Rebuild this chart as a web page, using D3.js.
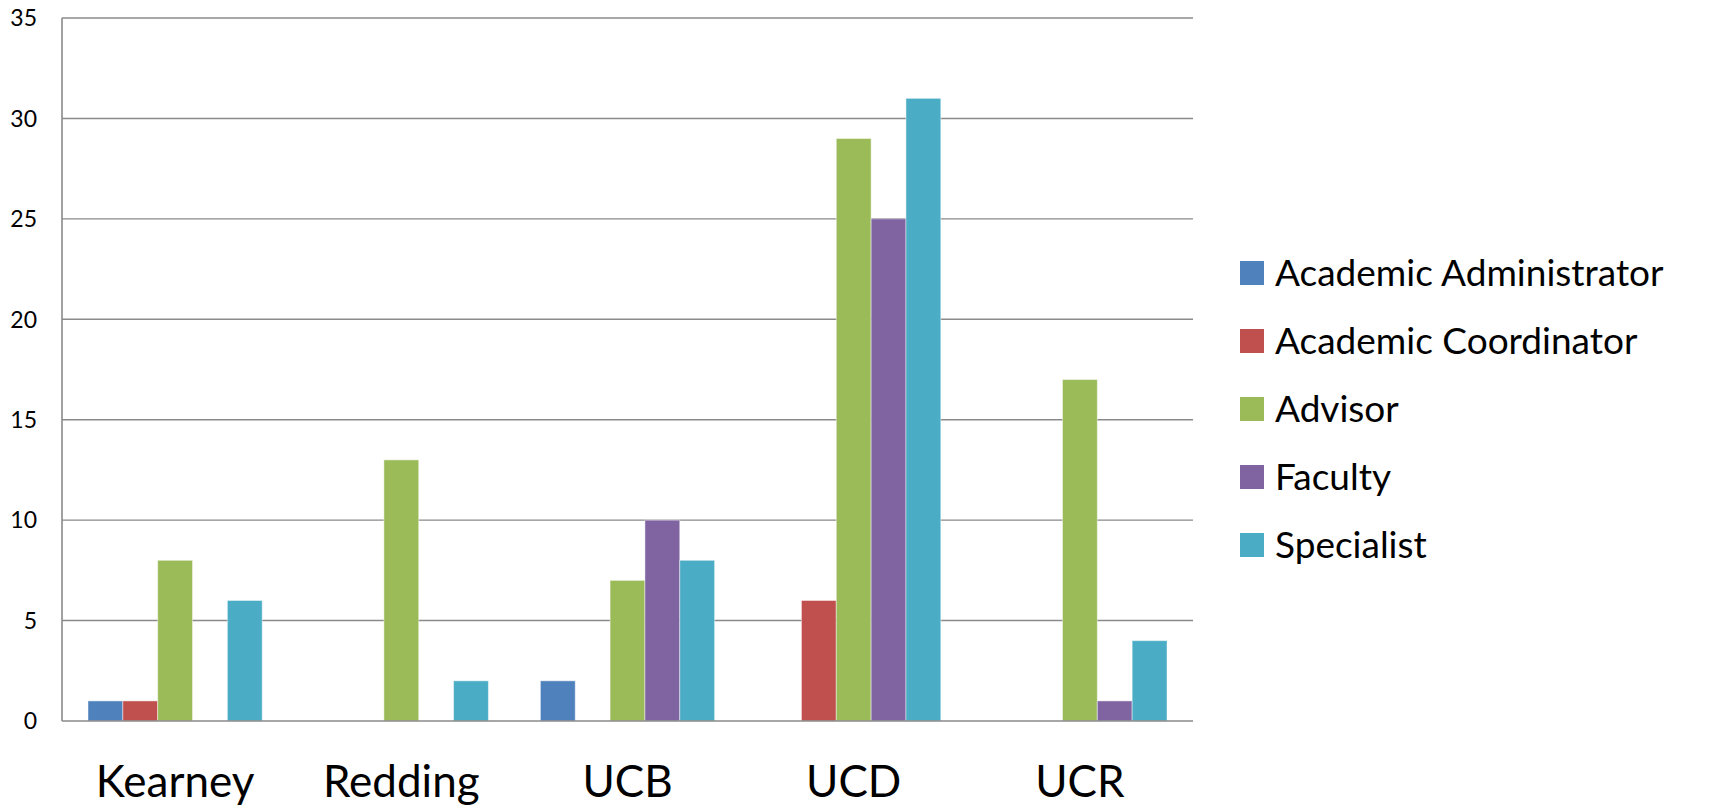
<!DOCTYPE html>
<html lang="en">
<head>
<meta charset="utf-8">
<title>Bar chart</title>
<script src="https://d3js.org/d3.v7.min.js"></script>
<style>
  body { margin: 0; background: #fff; }
  svg { display: block; font-family: Lato, "Open Sans", sans-serif; }
</style>
</head>
<body>
<div id="chart"></div>
<script>
// data
var campuses = ["Kearney", "Redding", "UCB", "UCD", "UCR"];
var roles = ["Academic Administrator", "Academic Coordinator", "Advisor", "Faculty", "Specialist"];
var colors = ["#4F81BD", "#C0504D", "#9BBB59", "#8064A2", "#4BACC6"];
var academicAdministrator = [1, 0, 2, 0, 0];
var academicCoordinator = [1, 0, 0, 6, 0];
var advisor = [8, 13, 7, 29, 17];
var faculty = [0, 0, 10, 25, 1];
var specialist = [6, 2, 8, 31, 4];
var yTicks = [0, 5, 10, 15, 20, 25, 30, 35];

var series = [academicAdministrator, academicCoordinator, advisor, faculty, specialist];

var W = 1713, H = 807;
var plot = {left: 62, right: 1193, top: 18, bottom: 721};

var svg = d3.select("#chart").append("svg")
    .attr("width", W)
    .attr("height", H);

var x = d3.scaleBand()
    .domain(campuses)
    .range([plot.left, plot.right]);

var inner = d3.scaleBand()
    .domain(roles)
    .range([26, x.bandwidth() - 26]);

var y = d3.scaleLinear()
    .domain([0, 35])
    .range([plot.bottom, plot.top]);

var color = d3.scaleOrdinal().domain(roles).range(colors);

// gridlines
svg.append("g")
  .selectAll("line")
  .data(yTicks.filter(function(d) { return d > 0; }))
  .enter().append("line")
    .attr("x1", plot.left)
    .attr("x2", plot.right)
    .attr("y1", function(d) { return y(d); })
    .attr("y2", function(d) { return y(d); })
    .attr("stroke", "#8a8a8a")
    .attr("stroke-width", 1.4);

// y tick labels
svg.append("g")
  .selectAll("text")
  .data(yTicks)
  .enter().append("text")
    .attr("x", 37)
    .attr("y", function(d) { return y(d); })
    .attr("dy", "0.36em")
    .attr("text-anchor", "end")
    .style("font-size", "23px")
    .style("fill", "#000")
    .text(function(d) { return d; });

// bars
var rows = [];
campuses.forEach(function(c, i) {
  roles.forEach(function(r, j) {
    rows.push({campus: c, role: r, value: series[j][i]});
  });
});

svg.append("g")
  .selectAll("rect")
  .data(rows.filter(function(d) { return d.value > 0; }))
  .enter().append("rect")
    .attr("x", function(d) { return x(d.campus) + inner(d.role); })
    .attr("y", function(d) { return y(d.value); })
    .attr("width", inner.bandwidth())
    .attr("height", function(d) { return y(0) - y(d.value); })
    .attr("fill", function(d) { return color(d.role); })
    .attr("stroke", "rgba(255,255,255,0.45)")
    .attr("stroke-width", 1);

// axis lines
svg.append("line")
    .attr("x1", plot.left).attr("x2", plot.left)
    .attr("y1", plot.top).attr("y2", plot.bottom)
    .attr("stroke", "#8a8a8a").attr("stroke-width", 1.6);
svg.append("line")
    .attr("x1", plot.left).attr("x2", plot.right)
    .attr("y1", plot.bottom).attr("y2", plot.bottom)
    .attr("stroke", "#8a8a8a").attr("stroke-width", 1.6);

// category labels
svg.append("g")
  .selectAll("text")
  .data(campuses)
  .enter().append("text")
    .attr("x", function(d) { return x(d) + x.bandwidth() / 2; })
    .attr("y", 797)
    .attr("text-anchor", "middle")
    .style("font-size", "44px")
    .style("fill", "#000")
    .text(function(d) { return d; });

// legend
var legend = svg.append("g")
  .selectAll("g")
  .data(roles)
  .enter().append("g")
    .attr("transform", function(d, i) { return "translate(1240," + (261 + i * 68) + ")"; });

legend.append("rect")
    .attr("width", 24)
    .attr("height", 24)
    .attr("fill", function(d) { return color(d); });

legend.append("text")
    .attr("x", 35)
    .attr("y", 25)
    .style("font-size", "37px")
    .style("fill", "#000")
    .text(function(d) { return d; });
</script>
</body>
</html>
